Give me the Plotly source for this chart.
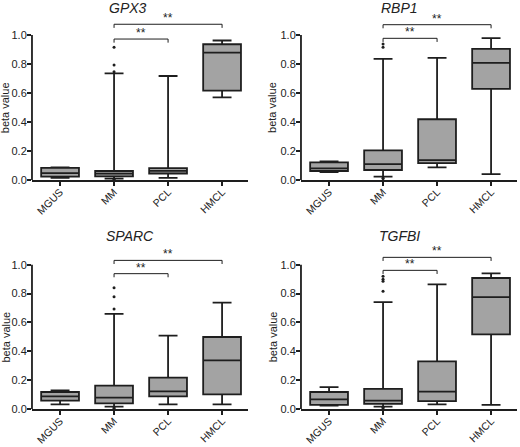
import plotly.graph_objects as go
from plotly.subplots import make_subplots

# grupos e genes
grupos = ["MGUS", "MM", "PCL", "HMCL"]
genes = ["GPX3", "RBP1", "SPARC", "TGFBI"]

# GPX3 - valores
gpx3_q1 = [0.023, 0.025, 0.045, 0.616]
gpx3_med = [0.048, 0.044, 0.063, 0.878]
gpx3_q3 = [0.083, 0.062, 0.082, 0.936]
gpx3_min = [0.015, 0.010, 0.015, 0.570]
gpx3_max = [0.087, 0.735, 0.717, 0.962]
gpx3_out_x = ["MM", "MM", "MM", "MM", "MM"]
gpx3_out_y = [0.915, 0.793, 0.747, 0.004, 0.007]

# RBP1
rbp1_q1 = [0.062, 0.069, 0.117, 0.629]
rbp1_med = [0.080, 0.110, 0.137, 0.808]
rbp1_q3 = [0.121, 0.204, 0.419, 0.904]
rbp1_min = [0.055, 0.023, 0.087, 0.041]
rbp1_max = [0.128, 0.835, 0.842, 0.979]
rbp1_out_x = ["MM", "MM", "MM", "MM"]
rbp1_out_y = [0.938, 0.915, 0.010, 0.013]

# SPARC
sparc_q1 = [0.058, 0.039, 0.088, 0.102]
sparc_med = [0.088, 0.079, 0.122, 0.337]
sparc_q3 = [0.118, 0.162, 0.217, 0.499]
sparc_min = [0.032, 0.016, 0.032, 0.032]
sparc_max = [0.129, 0.660, 0.508, 0.737]
sparc_out_x = ["MM", "MM", "MM", "MM", "MM"]
sparc_out_y = [0.840, 0.778, 0.693, 0.006, 0.009]

# TGFBI
tgfbi_q1 = [0.028, 0.035, 0.055, 0.517]
tgfbi_med = [0.067, 0.058, 0.120, 0.776]
tgfbi_q3 = [0.118, 0.139, 0.330, 0.908]
tgfbi_min = [0.023, 0.016, 0.032, 0.028]
tgfbi_max = [0.152, 0.741, 0.864, 0.940]
tgfbi_out_x = ["MM", "MM", "MM", "MM", "MM", "MM"]
tgfbi_out_y = [0.920, 0.900, 0.885, 0.816, 0.008, 0.011]

# altura dos colchetes de significancia (MM-PCL, MM-HMCL)
colchete_baixo = [0.972, 0.977, 0.938, 0.961]
colchete_alto = [1.074, 1.071, 1.030, 1.051]

dados = [
    (gpx3_q1, gpx3_med, gpx3_q3, gpx3_min, gpx3_max, gpx3_out_x, gpx3_out_y),
    (rbp1_q1, rbp1_med, rbp1_q3, rbp1_min, rbp1_max, rbp1_out_x, rbp1_out_y),
    (sparc_q1, sparc_med, sparc_q3, sparc_min, sparc_max, sparc_out_x, sparc_out_y),
    (tgfbi_q1, tgfbi_med, tgfbi_q3, tgfbi_min, tgfbi_max, tgfbi_out_x, tgfbi_out_y),
]

cor_linha = "#1e1e1e"
cor_caixa = "#a3a3a3"
fonte = "Arial, Liberation Sans, sans-serif"

fig = make_subplots(rows=2, cols=2)

pos = [(1, 1), (1, 2), (2, 1), (2, 2)]
dom_x = [[0.0615, 0.4769], [0.5788, 0.9942], [0.0615, 0.4769], [0.5788, 0.9942]]
dom_y = [[0.5973, 0.9704], [0.5973, 0.9704], [0.085, 0.4562], [0.085, 0.4562]]
titulo_xy = [(0.246, 0.982), (0.769, 0.982), (0.25, 0.472), (0.769, 0.472)]
ytitulo_x = [0.011, 0.524, 0.011, 0.524]

for i, (q1, med, q3, lo, hi, ox, oy) in enumerate(dados):
    r, c = pos[i]
    fig.add_trace(go.Box(x=grupos, q1=q1, median=med, q3=q3, lowerfence=lo, upperfence=hi,
                         fillcolor=cor_caixa, line=dict(color=cor_linha, width=1.8),
                         width=0.7, whiskerwidth=0.5, boxpoints=False, showlegend=False,
                         hoverinfo="skip"),
                  row=r, col=c)
    fig.add_trace(go.Scatter(x=ox, y=oy, mode="markers",
                             marker=dict(color=cor_linha, size=3), showlegend=False),
                  row=r, col=c)

    n = "" if i == 0 else str(i + 1)
    xr = "x" + n
    yr = "y" + n
    fig.layout["xaxis" + n].update(domain=dom_x[i], range=[-0.52, 3.48], showline=True,
                                   linecolor=cor_linha, linewidth=1.8, ticks="outside",
                                   ticklen=4, tickwidth=1.5, tickcolor=cor_linha, tickangle=-45,
                                   showgrid=False, zeroline=False, automargin=False,
                                   ticklabelstandoff=-4,
                                   tickfont=dict(size=10.5, color="#222", family=fonte))
    fig.layout["yaxis" + n].update(domain=dom_y[i], range=[0, 1.15], showline=False,
                                   tickvals=[0, 0.2, 0.4, 0.6, 0.8, 1.0], tickformat=".1f",
                                   ticks="outside", ticklen=4, tickwidth=1.5, tickcolor=cor_linha,
                                   showgrid=False, zeroline=False, automargin=False,
                                   ticklabelstandoff=-2,
                                   tickfont=dict(size=11, color="#222", family=fonte))

    # titulo do eixo y centrado entre 0 e 1
    fig.add_annotation(x=ytitulo_x[i], y=0.5, xref="paper", yref=yr, text="beta value",
                       textangle=-90, showarrow=False, xanchor="center", yanchor="middle",
                       font=dict(size=11, color="#222", family=fonte))

    # linha do eixo y so ate 1.0
    fig.add_shape(type="line", xref="paper", yref=yr, x0=dom_x[i][0], x1=dom_x[i][0],
                  y0=0, y1=1.0, line=dict(color=cor_linha, width=1.8))

    # colchetes
    for alvo, yb in [("PCL", colchete_baixo[i]), ("HMCL", colchete_alto[i])]:
        ia = grupos.index(alvo)
        fig.add_shape(type="path", xref=xr, yref=yr,
                      path=f"M 1,{yb - 0.025} L 1,{yb} L {ia},{yb} L {ia},{yb - 0.025}",
                      line=dict(color=cor_linha, width=1))
        fig.add_annotation(x=(1 + ia) / 2, y=yb, xref=xr, yref=yr, text="**",
                           showarrow=False, yanchor="bottom", yshift=-3,
                           font=dict(size=12, color="#222", family=fonte))

    fig.add_annotation(x=titulo_xy[i][0], y=titulo_xy[i][1], xref="paper", yref="paper",
                       xanchor="center", yanchor="middle",
                       text="<i>" + genes[i] + "</i>", showarrow=False,
                       font=dict(size=14, color="#222", family=fonte))

fig.update_layout(width=520, height=447, margin=dict(l=0, r=0, t=0, b=0),
                  plot_bgcolor="white", paper_bgcolor="white", hovermode=False)

# tira a margem padrao do body pra figura ficar colada no canto
fig.write_html("out.html", config={"displayModeBar": False},
               post_script="document.body.style.margin='0';")
